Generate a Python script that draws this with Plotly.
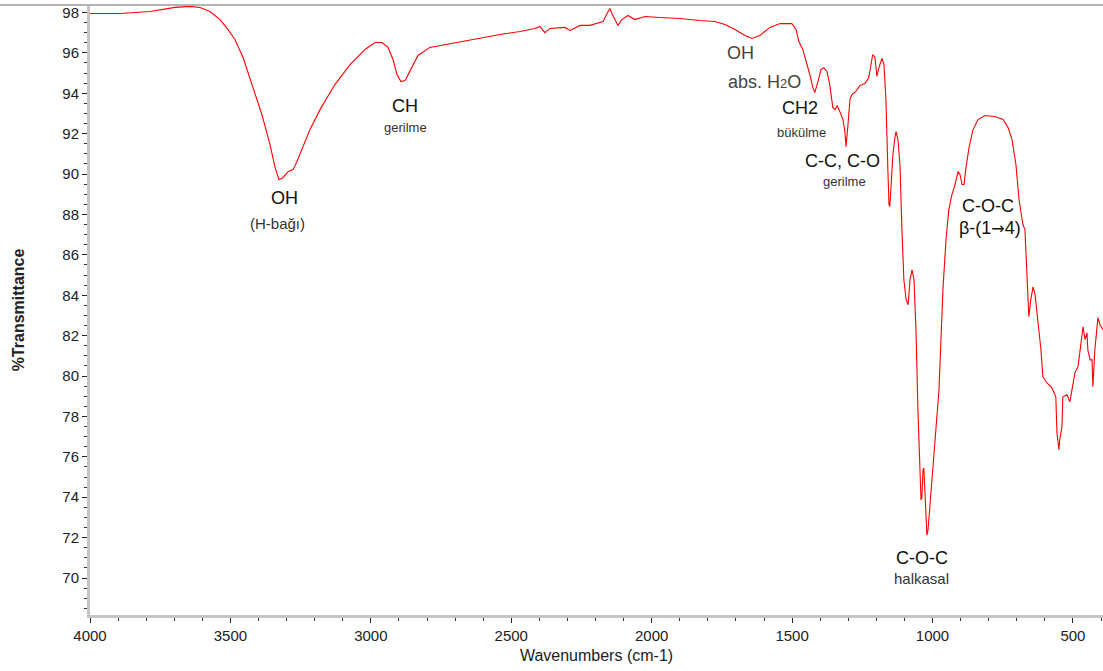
import plotly.graph_objects as go

wavenumber = [4000, 3893, 3786, 3697, 3644, 3608, 3573, 3537, 3509, 3484, 3455, 3430, 3409, 3388, 3359,
               3341, 3327, 3313, 3295, 3277, 3263, 3242, 3217, 3181, 3128, 3074, 3021, 2985, 2960, 2939,
               2921, 2907, 2893, 2878, 2861, 2832, 2790, 2718, 2647, 2540, 2469, 2416, 2398, 2380, 2362,
               2309, 2291, 2255, 2220, 2195, 2173, 2159, 2149, 2138, 2120, 2106, 2084, 2060, 2024, 1971,
               1899, 1828, 1775, 1739, 1703, 1668, 1643, 1615, 1579, 1543, 1501, 1486, 1476, 1462, 1451,
               1437, 1426, 1419, 1408, 1397, 1387, 1376, 1366, 1355, 1347, 1340, 1330, 1319, 1312, 1308,
               1301, 1294, 1287, 1273, 1259, 1241, 1227, 1220, 1213, 1205, 1198, 1191, 1180, 1173, 1166,
               1159, 1155, 1152, 1148, 1141, 1134, 1130, 1123, 1116, 1109, 1102, 1094, 1087, 1080, 1073,
               1066, 1059, 1052, 1045, 1041, 1038, 1034, 1031, 1027, 1020, 1016, 1009, 998, 988, 977,
               970, 963, 952, 942, 931, 920, 909, 902, 895, 888, 881, 870, 856, 838, 813,
               778, 749, 731, 717, 703, 692, 685, 678, 671, 664, 657, 650, 642, 635, 625,
               614, 607, 593, 575, 561, 557, 550, 547, 539, 536, 521, 511, 504, 493, 482,
               475, 464, 457, 450, 447, 439, 432, 429, 422, 415, 411, 404, 397, 393]
transmittance = [97.95, 97.95, 98.05, 98.25, 98.3, 98.25, 98.05, 97.65, 97.16, 96.66, 95.77, 94.68, 93.79, 92.95, 91.46,
                 90.32, 89.72, 89.82, 90.12, 90.22, 90.62, 91.31, 92.2, 93.19, 94.43, 95.42, 96.17, 96.51, 96.51, 96.27,
                 95.67, 94.93, 94.58, 94.63, 95.08, 95.87, 96.27, 96.46, 96.66, 96.91, 97.06, 97.21, 97.31, 97.0, 97.21,
                 97.26, 97.11, 97.36, 97.36, 97.45, 97.55, 97.95, 98.2, 97.85, 97.36, 97.65, 97.85, 97.65, 97.8, 97.75,
                 97.7, 97.6, 97.55, 97.4, 97.16, 96.86, 96.71, 96.86, 97.26, 97.45, 97.45, 97.16, 96.56, 96.17, 95.67,
                 94.93, 94.28, 94.04, 94.58, 95.18, 95.27, 95.08, 94.43, 93.29, 93.19, 93.39, 93.09, 92.7, 92.1, 91.36,
                 92.45, 93.69, 93.94, 94.09, 94.38, 94.48, 94.78, 95.42, 95.92, 95.77, 94.83, 95.27, 95.72, 95.42, 93.69,
                 90.22, 88.49, 88.39, 89.23, 90.96, 91.8, 92.1, 91.71, 90.47, 87.25, 84.77, 83.78, 83.53, 84.77, 85.26,
                 84.77, 82.29, 78.33, 75.35, 73.87, 73.97, 75.35, 75.45, 74.36, 72.13, 72.38, 73.62, 75.35, 77.34, 79.32,
                 81.8, 84.27, 86.75, 88.24, 88.98, 89.48, 90.12, 89.97, 89.48, 89.48, 90.32, 91.31, 92.2, 92.7, 92.9,
                 92.85, 92.7, 92.3, 91.71, 90.47, 88.73, 87.99, 87.49, 87.25, 84.77, 82.94, 83.78, 84.42, 84.03, 82.79,
                 81.3, 79.96, 79.67, 79.42, 78.97, 77.19, 76.35, 76.85, 77.49, 78.97, 79.07, 78.72, 79.32, 80.16, 80.46,
                 81.3, 82.44, 81.8, 82.14, 81.3, 80.8, 80.8, 79.47, 81.3, 82.14, 82.89, 82.54, 82.39, 82.3]

x_tickvals = [4000, 3500, 3000, 2500, 2000, 1500, 1000, 500]
y_tickvals = [70, 72, 74, 76, 78, 80, 82, 84, 86, 88, 90, 92, 94, 96, 98]

labels = [
    ("OH", 3306, 88.83, 18, "#111"),
    ("(H-bağı)", 3331, 87.55, 15, "#333"),
    ("CH", 2878, 93.39, 18, "#111"),
    ("gerilme", 2878, 92.3, 13, "#333"),
    ("OH", 1682, 95.97, 18, "#444"),
    ("abs. H<span style='font-size:13px'>2</span>O", 1597, 94.58, 18, "#444"),
    ("CH2", 1472, 93.29, 18, "#111"),
    ("bükülme", 1465, 92.05, 13, "#333"),
    ("C-C, C-O", 1322, 90.67, 18, "#111"),
    ("gerilme", 1315, 89.63, 13, "#333"),
    ("C-O-C", 803, 88.44, 18, "#111"),
    ("β-(1<span style='font-family:DejaVu Sans;font-size:16px'>→</span>4)", 796, 87.35, 18, "#111"),
    ("C-O-C", 1038, 70.99, 18, "#111"),
    ("halkasal", 1038, 70.0, 15, "#333"),
]

fig = go.Figure()
fig.add_trace(go.Scatter(x=wavenumber, y=transmittance, mode="lines",
                         line=dict(color="#ff0000", width=1.1), showlegend=False))

for text, x, y, size, color in labels:
    fig.add_annotation(x=x, y=y, text=text, showarrow=False,
                       font=dict(family="Liberation Sans, Arial", size=size, color=color),
                       xanchor="center", yanchor="middle")

fig.add_shape(type="line", xref="paper", yref="paper", x0=-0.09, x1=1, y0=1, y1=1,
              line=dict(color="#b4b4b4", width=2))

fig.update_layout(
    width=1103, height=671,
    margin=dict(l=90, r=0, t=5, b=56),
    paper_bgcolor="white", plot_bgcolor="white",
    font=dict(family="Liberation Sans, Arial", size=14, color="#222"),
    xaxis=dict(range=[4000, 393], tickvals=x_tickvals, showgrid=False, zeroline=False,
               showline=True, linecolor="#c4c4c4", linewidth=3,
               ticks="outside", ticklen=5, tickcolor="#222", tickwidth=1,
               minor=dict(dtick=100, ticks="outside", ticklen=3, tickcolor="#333", tickwidth=1),
               tickfont=dict(size=15, color="#222"),
               title=dict(text="Wavenumbers (cm-1)", font=dict(size=16, color="#222"), standoff=7)),
    yaxis=dict(range=[68.17, 98.37], tickvals=y_tickvals, showgrid=False, zeroline=False,
               showline=True, linecolor="#c4c4c4", linewidth=3,
               ticks="outside", ticklen=5, tickcolor="#222", tickwidth=1,
               minor=dict(dtick=0.5, ticks="outside", ticklen=3, tickcolor="#333", tickwidth=1),
               tickfont=dict(size=15, color="#222"),
               title=dict(text="<b>%Transmittance</b>", font=dict(size=16, color="#222"), standoff=34)),
)

fig.write_html("out.html", config={"displayModeBar": False},
               post_script="document.body.style.margin='0';")
